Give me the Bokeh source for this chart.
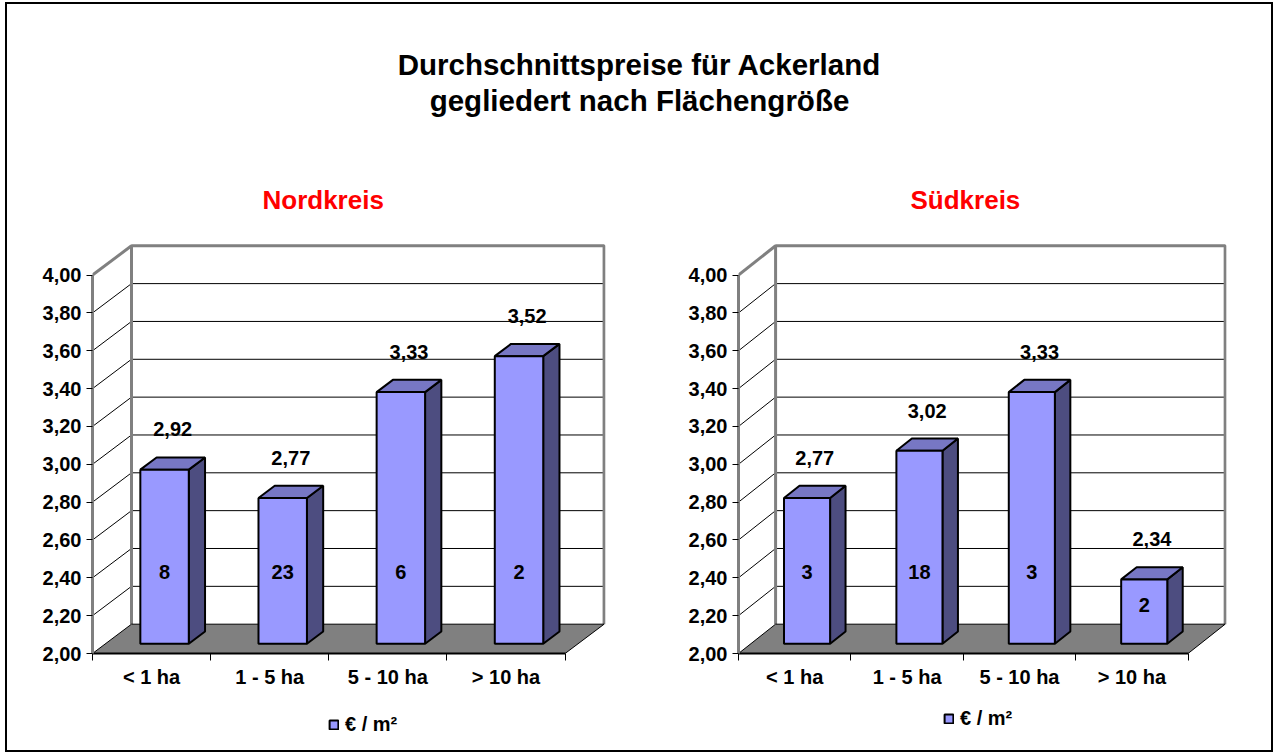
from bokeh.plotting import figure
from bokeh.models import Range1d, FixedTicker, Legend, LegendItem, ColumnDataSource
from bokeh.layouts import column, row
from bokeh.embed import file_html
from bokeh.resources import INLINE
from bokeh.core.properties import value

# ---------------- data ----------------
main_title = ["Durchschnittspreise für Ackerland", "gegliedert nach Flächengröße"]
categories = ["< 1 ha", "1 - 5 ha", "5 - 10 ha", "> 10 ha"]
nord_name = "Nordkreis"
nord_prices = [2.92, 2.77, 3.33, 3.52]
nord_counts = [8, 23, 6, 2]
sued_name = "Südkreis"
sued_prices = [2.77, 3.02, 3.33, 2.34]
sued_counts = [3, 18, 3, 2]
y_ticks = [2.0, 2.2, 2.4, 2.6, 2.8, 3.0, 3.2, 3.4, 3.6, 3.8, 4.0]
unit_label = "€ / m²"

# ---------------- style ----------------
FONT = "Liberation Sans"
FRONT = "#9999FF"
TOP = "#7777C4"
SIDE = "#4D4D80"
WALL = "#808080"
DX, DY = 0.33, 0.155      # depth of the 3D box (data units)
F0, F1 = 0.333, 0.75      # depth fractions of bar front / back
BAR_W = 0.41


def de(v):
    return f"{v:.2f}".replace(".", ",")


def panel(name, prices, counts, fw, fh, mbl, mbr, mbt, mbb, title_offset, title_standoff):
    n = len(categories)
    y0, y1 = y_ticks[0], y_ticks[-1]
    p = figure(frame_width=fw, frame_height=fh,
               x_range=Range1d(0, n + DX + 0.012), y_range=Range1d(y0, y1 + DY + 0.012),
               output_backend="svg", toolbar_location=None,
               min_border_left=mbl, min_border_right=mbr,
               min_border_top=mbt, min_border_bottom=mbb,
               background_fill_color="white", border_fill_color="white")
    p.outline_line_color = None
    p.grid.visible = False

    # panel title (the figure's own title)
    p.title.text = name
    p.title.align = "left"
    p.title.offset = title_offset
    p.title.standoff = title_standoff
    p.title.text_color = "#FF0000"
    p.title.text_font = FONT
    p.title.text_font_style = "bold"
    p.title.text_font_size = "26px"

    # y axis (front left edge)
    yax = p.yaxis[0]
    yax.ticker = FixedTicker(ticks=y_ticks)
    yax.major_label_overrides = {t: de(t) for t in y_ticks}
    yax.bounds = (y0, y1)
    yax.axis_line_color = WALL
    yax.axis_line_width = 3
    yax.major_tick_out = 6
    yax.major_tick_in = 0
    yax.minor_tick_line_color = None
    yax.major_tick_line_color = "black"
    yax.major_label_standoff = 5
    yax.major_label_text_font = FONT
    yax.major_label_text_font_style = "bold"
    yax.major_label_text_font_size = "20px"
    yax.major_label_text_color = "black"

    # x axis (front floor edge)
    xax = p.xaxis[0]
    centers = [i + 0.5 for i in range(n)]
    xax.ticker = FixedTicker(ticks=centers, minor_ticks=list(range(n + 1)))
    xax.major_label_overrides = {c: lab for c, lab in zip(centers, categories)}
    xax.bounds = (0, n)
    xax.axis_line_color = "black"
    xax.axis_line_width = 2
    xax.major_tick_line_color = None
    xax.major_tick_out = 7
    xax.major_tick_in = 0
    xax.minor_tick_line_color = "black"
    xax.minor_tick_out = 7
    xax.minor_tick_in = 0
    xax.major_label_standoff = 5
    xax.major_label_text_font = FONT
    xax.major_label_text_font_style = "bold"
    xax.major_label_text_font_size = "20px"
    xax.major_label_text_color = "black"

    # back wall gridlines and side-wall diagonals
    inner = y_ticks[1:-1]
    p.segment(x0=[DX] * len(inner), y0=[t + DY for t in inner],
              x1=[n + DX] * len(inner), y1=[t + DY for t in inner],
              line_color="black", line_width=1)
    p.segment(x0=[0] * len(inner), y0=inner, x1=[DX] * len(inner), y1=[t + DY for t in inner],
              line_color="black", line_width=1)
    # wall frame
    p.multi_line(xs=[[DX, DX, n + DX, n + DX], [0, DX]],
                 ys=[[y0 + DY, y1 + DY, y1 + DY, y0 + DY], [y1, y1 + DY]],
                 line_color=WALL, line_width=3)
    # floor
    p.patch(x=[0, n, n + DX, DX], y=[y0, y0, y0 + DY, y0 + DY],
            fill_color=WALL, line_color="black", line_width=1)

    # bars
    lefts = [i + 0.5 - BAR_W / 2 + F0 * DX for i in range(n)]
    rights = [i + 0.5 + BAR_W / 2 + F0 * DX for i in range(n)]
    bottoms = [y0 + F0 * DY] * n
    tops = [v + F0 * DY for v in prices]
    s = F1 - F0
    side_xs = [[r, r + s * DX, r + s * DX, r] for r in rights]
    side_ys = [[b, b + s * DY, t + s * DY, t] for b, t in zip(bottoms, tops)]
    top_xs = [[l, r, r + s * DX, l + s * DX] for l, r in zip(lefts, rights)]
    top_ys = [[t, t, t + s * DY, t + s * DY] for t in tops]
    p.patches(xs=side_xs, ys=side_ys, fill_color=SIDE, line_color="black", line_width=2)
    p.patches(xs=top_xs, ys=top_ys, fill_color=TOP, line_color="black", line_width=2)
    src = ColumnDataSource(dict(left=lefts, right=rights, bottom=bottoms, top=tops))
    p.quad(left="left", right="right", bottom="bottom", top="top", source=src,
           fill_color=FRONT, line_color="black", line_width=2)

    # value labels above bars
    p.text(x=[i + 0.5 + (F0 + F1) / 2 * DX for i in range(n)],
           y=[v + F1 * DY for v in prices], text=[de(v) for v in prices],
           text_font=value(FONT), text_font_style="bold", text_font_size="20px",
           text_align="center", text_baseline="middle", y_offset=-28, text_color="black")
    # counts inside bars
    p.text(x=[i + 0.5 + F0 * DX for i in range(n)],
           y=[y0 + min(0.43, 0.75 * (v - y0)) for v in prices], text=[str(c) for c in counts],
           text_font=value(FONT), text_font_style="bold", text_font_size="20px",
           text_align="center", text_baseline="middle", text_color="black")
    return p, src


def legend_strip(width, loc, src):
    lf = figure(width=width, height=50, output_backend="svg", toolbar_location=None,
                min_border=0, x_axis_location=None, y_axis_location=None,
                x_range=Range1d(0, 1), y_range=Range1d(0, 1))
    lf.grid.visible = False
    lf.outline_line_color = None
    # same bar series (it lies outside this strip's view); used only for the legend key
    key = lf.quad(left="left", right="right", bottom="bottom", top="top", source=src,
                  fill_color=FRONT, line_color="black", line_width=2)
    leg = Legend(items=[LegendItem(label=value(unit_label), renderers=[key])],
                 orientation="horizontal", location=loc,
                 border_line_color=None, background_fill_alpha=0,
                 label_text_font=FONT, label_text_font_style="bold",
                 label_text_font_size="20px", label_text_color="black",
                 glyph_width=11, glyph_height=11,
                 label_standoff=6, padding=2, margin=0)
    lf.add_layout(leg)
    return lf


p1, s1 = panel(nord_name, nord_prices, nord_counts, 513, 410, 85, 32, 93, 47, 170, 58)
p2, s2 = panel(sued_name, sued_prices, sued_counts, 488, 410, 101, 45, 93, 47, 172, 58)
l1 = legend_strip(630, (321, 14), s1)
l2 = legend_strip(634, (306, 20), s2)

tf = figure(width=1264, height=146, x_range=Range1d(0, 1), y_range=Range1d(146, 0),
            output_backend="svg", toolbar_location=None, min_border=0,
            x_axis_location=None, y_axis_location=None)
tf.grid.visible = False
tf.outline_line_color = None
tf.text(x=[0.5, 0.5], y=[60, 96], text=main_title, text_font=value(FONT),
        text_font_style="bold", text_font_size="29.5px", text_align="center",
        text_baseline="middle", text_color="black")

layout = column(tf, row(p1, p2), row(l1, l2),
                styles={"position": "absolute", "left": "5px", "top": "2px",
                        "border": "2px solid black", "background": "white"})

open("out.html", "w").write(file_html(layout, INLINE))
